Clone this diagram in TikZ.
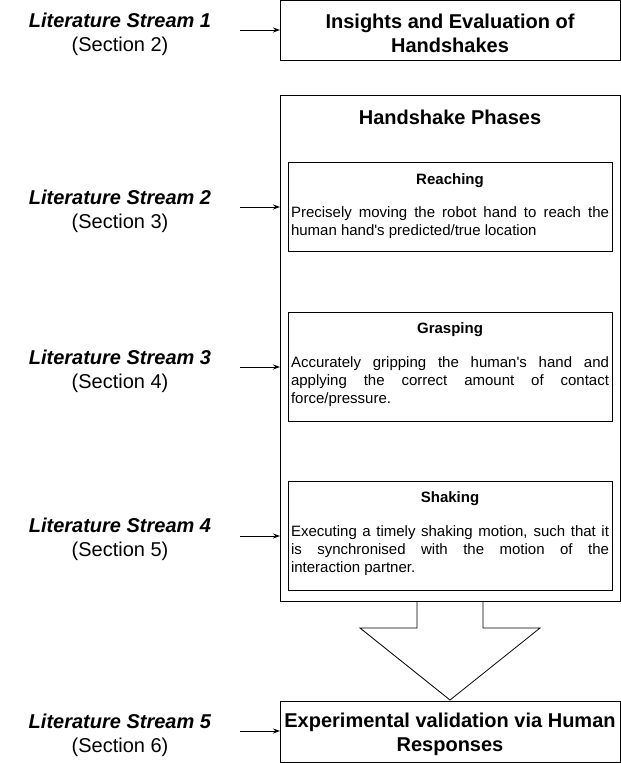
\documentclass[tikz,border=0pt]{standalone}
\usepackage{fontspec}
\setmainfont{Liberation Sans}
\usetikzlibrary{arrows.meta}
\begin{document}
\begin{tikzpicture}[x=1pt,y=-1pt,
  box/.style={draw, line width=1pt, inner sep=0pt},
  big/.style={font=\fontsize{20}{24}\selectfont\bfseries, align=center, inner sep=0pt},
  lit/.style={font=\fontsize{20}{24}\selectfont, align=center, inner sep=0pt},
  subtitle/.style={font=\fontsize{15}{18}\selectfont\bfseries, inner sep=0pt},
  body/.style={font=\fontsize{15}{18}\selectfont, align=justify, text width=318pt, inner sep=0pt},
  conn/.style={line width=1pt, -{Stealth[length=7pt,width=5pt]}},
  blockarrow/.style={draw, line width=0.8pt}
]
\useasboundingbox (0,0) rectangle (621,763);

% block arrow
\draw[blockarrow] (417,601) -- (417,628) -- (360,628) -- (450,700) -- (540,628) -- (483,628) -- (483,601);

% boxes
\draw[box] (280,0) rectangle (620,60);
\coordinate (topL) at (280,30);
\node[big] (insights) at (450,33) {Insights and Evaluation of\\Handshakes};

\draw[box] (280,95) rectangle (620,601);
\coordinate (bigL) at (280,348);
\node[big] (phases) at (450,117) {Handshake Phases};

\draw[box] (288,162) rectangle (612,251);
\node[subtitle] (reach) at (450,181) {Reaching};
\node[body] (reachtxt) at (450,223) {Precisely moving the robot hand to reach the\linebreak human hand\textquotesingle s predicted/true location};

\draw[box] (288,312) rectangle (612,421);
\node[subtitle] (grasp) at (450,330) {Grasping};
\node[body] (grasptxt) at (450,382) {Accurately gripping the human\textquotesingle s hand and\linebreak applying the correct amount of contact\linebreak force/pressure.};

\draw[box] (288,481) rectangle (612,590);
\node[subtitle] (shake) at (450,499) {Shaking};
\node[body] (shaketxt) at (450,551) {Executing a timely shaking motion, such that it\linebreak is synchronised with the motion of the\linebreak interaction partner.};

\draw[box] (280,701) rectangle (620,762);
\node[big] (exp) at (450,734) {Experimental validation via Human\\Responses};

% left labels
\node[lit] (l1) at (120,34) {\textbf{\textit{Literature Stream 1}}\\(Section 2)};
\node[lit] (l2) at (120,211) {\textbf{\textit{Literature Stream 2}}\\(Section 3)};
\node[lit] (l3) at (120,371) {\textbf{\textit{Literature Stream 3}}\\(Section 4)};
\node[lit] (l4) at (120,539) {\textbf{\textit{Literature Stream 4}}\\(Section 5)};
\node[lit] (l5) at (120,735) {\textbf{\textit{Literature Stream 5}}\\(Section 6)};

% connectors
\coordinate (s1) at (240,30);
\coordinate (s2) at (240,207);
\coordinate (s3) at (240,367);
\coordinate (s4) at (240,536);
\coordinate (s5) at (240,731);
\draw[conn] (s1) -- (topL |- s1);
\draw[conn] (s2) -- (bigL |- s2);
\draw[conn] (s3) -- (bigL |- s3);
\draw[conn] (s4) -- (bigL |- s4);
\draw[conn] (s5) -- (bigL |- s5);
\end{tikzpicture}
\end{document}
